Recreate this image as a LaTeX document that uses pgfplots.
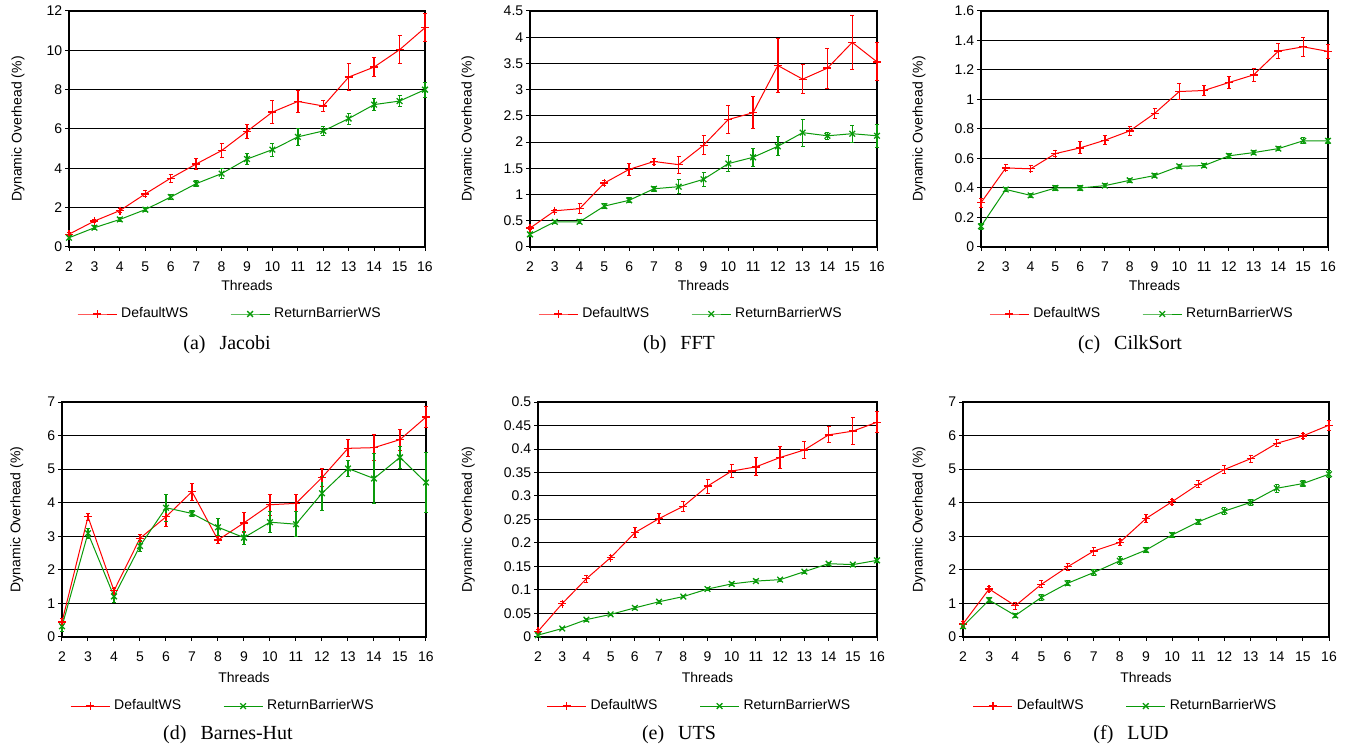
\documentclass[border=0pt]{standalone}
\usepackage{fontspec}
\setmainfont{Liberation Sans}
\newfontfamily\capfont{Liberation Serif}
\usepackage{pgfplots}
\usepackage{pgfplotstable}
\pgfplotsset{compat=1.18}
\definecolor{DefRed}{HTML}{FF0000}
\definecolor{RetGreen}{HTML}{0A9A0A}

% x: threads, d/de: DefaultWS mean/err, r/re: ReturnBarrierWS mean/err
\pgfplotstableread{
x d de r re
2 0.65 0.10 0.47 0.10
3 1.32 0.10 0.98 0.10
4 1.85 0.10 1.40 0.10
5 2.70 0.15 1.90 0.10
6 3.50 0.20 2.54 0.12
7 4.22 0.28 3.22 0.15
8 4.90 0.35 3.73 0.25
9 5.88 0.34 4.47 0.30
10 6.86 0.60 4.95 0.33
11 7.40 0.58 5.60 0.45
12 7.17 0.30 5.90 0.22
13 8.64 0.70 6.53 0.28
14 9.15 0.50 7.24 0.30
15 10.03 0.70 7.42 0.30
16 11.15 0.70 8.00 0.38
}\jacobi
\pgfplotstableread{
x d de r re
2 0.36 0.03 0.24 0.04
3 0.69 0.03 0.48 0.03
4 0.73 0.10 0.48 0.04
5 1.22 0.05 0.78 0.04
6 1.48 0.12 0.89 0.05
7 1.63 0.06 1.11 0.05
8 1.57 0.16 1.15 0.13
9 1.94 0.18 1.29 0.13
10 2.43 0.26 1.59 0.16
11 2.56 0.30 1.71 0.17
12 3.46 0.51 1.92 0.18
13 3.20 0.28 2.18 0.26
14 3.41 0.38 2.12 0.07
15 3.90 0.51 2.16 0.16
16 3.53 0.36 2.12 0.22
}\fft
\pgfplotstableread{
x d de r re
2 0.300 0.030 0.140 0.020
3 0.536 0.020 0.390 0.015
4 0.530 0.020 0.350 0.015
5 0.633 0.020 0.400 0.015
6 0.672 0.040 0.400 0.015
7 0.724 0.030 0.416 0.015
8 0.787 0.033 0.452 0.015
9 0.905 0.035 0.484 0.015
10 1.054 0.055 0.547 0.015
11 1.061 0.035 0.552 0.015
12 1.115 0.040 0.618 0.015
13 1.167 0.043 0.640 0.015
14 1.328 0.050 0.667 0.015
15 1.357 0.065 0.720 0.020
16 1.326 0.045 0.720 0.015
}\cilksort
\pgfplotstableread{
x d de r re
2 0.45 0.10 0.32 0.15
3 3.58 0.10 3.09 0.15
4 1.38 0.07 1.21 0.17
5 2.94 0.11 2.71 0.17
6 3.58 0.30 3.85 0.40
7 4.33 0.25 3.68 0.10
8 2.89 0.11 3.27 0.26
9 3.40 0.30 2.96 0.19
10 3.94 0.31 3.42 0.31
11 3.98 0.25 3.36 0.37
12 4.75 0.28 4.28 0.50
13 5.62 0.25 5.02 0.25
14 5.64 0.39 4.72 0.75
15 5.88 0.31 5.35 0.32
16 6.55 0.32 4.60 0.90
}\barneshut
\pgfplotstableread{
x d de r re
2 0.012 0.003 0.004 0.003
3 0.071 0.004 0.018 0.003
4 0.124 0.007 0.037 0.003
5 0.169 0.005 0.048 0.003
6 0.222 0.010 0.062 0.003
7 0.252 0.010 0.075 0.003
8 0.278 0.010 0.086 0.003
9 0.321 0.015 0.102 0.004
10 0.353 0.013 0.113 0.003
11 0.362 0.019 0.119 0.003
12 0.382 0.023 0.122 0.003
13 0.398 0.018 0.139 0.003
14 0.430 0.017 0.156 0.003
15 0.438 0.028 0.154 0.003
16 0.457 0.022 0.163 0.004
}\uts
\pgfplotstableread{
x d de r re
2 0.39 0.08 0.32 0.08
3 1.43 0.08 1.10 0.08
4 0.93 0.10 0.64 0.06
5 1.57 0.10 1.18 0.08
6 2.09 0.10 1.60 0.08
7 2.56 0.12 1.92 0.08
8 2.82 0.08 2.27 0.12
9 3.53 0.12 2.59 0.08
10 4.03 0.08 3.04 0.08
11 4.55 0.10 3.43 0.08
12 4.99 0.13 3.75 0.10
13 5.31 0.10 4.01 0.08
14 5.77 0.10 4.43 0.12
15 5.99 0.08 4.57 0.08
16 6.31 0.15 4.85 0.10
}\lud

\pgfplotsset{
  ohead/.style={
    scale only axis, clip=false,
    xmin=2, xmax=16, ymin=0, xtick={2,...,16},
    tick pos=left, tick align=outside, major tick length=2pt,
    tick style={black,line width=0.5pt},
    axis line style={black,line width=0.6pt},
    ymajorgrids, grid style={black,line width=0.5pt},
    scaled y ticks=false,
    /pgf/number format/assume math mode=true,
    yticklabel style={/pgf/number format/fixed,/pgf/number format/precision=2,inner xsep=1.2pt},
    xticklabel style={yshift=-2pt},
    tick label style={font=\fontsize{7}{8.4}\selectfont},
    xlabel=Threads, ylabel={Dynamic Overhead (\%)},
    every axis x label/.style={at={(axis description cs:0.5,0)},anchor=center,yshift=-19.5pt,
      font=\fontsize{7}{8.4}\selectfont},
    every axis y label/.style={rotate=90,anchor=center,font=\fontsize{7}{8.4}\selectfont},
    legend columns=2,
    legend style={draw=none,fill=none,anchor=center,font=\fontsize{7}{8.4}\selectfont,
      /tikz/every even column/.append style={column sep=19pt}},
    legend image code/.code={\draw[mark repeat=2,mark phase=2] plot coordinates {(0pt,0pt) (9.75pt,0pt) (19.5pt,0pt)};},
  },
  errs/.style={
    /pgfplots/error bars/y dir=both,/pgfplots/error bars/y explicit,
    /pgfplots/error bars/error bar style={line width=0.65pt},
    /pgfplots/error bars/error mark options={rotate=90,mark size=1pt,line width=0.5pt}},
  defws/.style={DefRed,line width=0.5pt,mark=+,mark size=2pt,mark options={line width=0.65pt},errs},
  retws/.style={RetGreen,line width=0.5pt,mark=x,mark size=2pt,mark options={line width=0.65pt},errs},
}

\begin{document}
\begin{tikzpicture}
\path[use as bounding box] (0,0) rectangle (673pt,374pt);

% (a) Jacobi
\begin{axis}[ohead,at={(34.5pt,250.5pt)},anchor=south west,width=178pt,height=118pt,
  ymax=12,ytick={0,2,4,6,8,10,12},
  y label style={at={(axis description cs:-0.143,0.5)}},
  legend style={at={(axis description cs:0.455,-0.284)}}]
\addplot[defws] table[x=x,y=d,y error=de] {\jacobi};
\addplot[retws] table[x=x,y=r,y error=re] {\jacobi};
\legend{DefaultWS,ReturnBarrierWS}
\end{axis}

% (b) FFT
\begin{axis}[ohead,at={(265pt,250.5pt)},anchor=south west,width=173.5pt,height=118pt,
  ymax=4.5,ytick={0,0.5,1,1.5,2,2.5,3,3.5,4,4.5},
  y label style={at={(axis description cs:-0.179,0.5)}},
  legend style={at={(axis description cs:0.467,-0.284)}}]
\addplot[defws] table[x=x,y=d,y error=de] {\fft};
\addplot[retws] table[x=x,y=r,y error=re] {\fft};
\legend{DefaultWS,ReturnBarrierWS}
\end{axis}

% (c) CilkSort
\begin{axis}[ohead,at={(490.5pt,250.5pt)},anchor=south west,width=173.5pt,height=118pt,
  ymax=1.6,ytick={0,0.2,0.4,0.6,0.8,1,1.2,1.4,1.6},
  y label style={at={(axis description cs:-0.179,0.5)}},
  legend style={at={(axis description cs:0.467,-0.284)}}]
\addplot[defws] table[x=x,y=d,y error=de] {\cilksort};
\addplot[retws] table[x=x,y=r,y error=re] {\cilksort};
\legend{DefaultWS,ReturnBarrierWS}
\end{axis}

% (d) Barnes-Hut
\begin{axis}[ohead,at={(31pt,55.5pt)},anchor=south west,width=182pt,height=117.5pt,
  ymax=7,ytick={0,1,2,3,4,5,6,7},
  every axis x label/.append style={yshift=-1pt},
  y label style={at={(axis description cs:-0.124,0.5)}},
  legend style={at={(axis description cs:0.445,-0.294)}}]
\addplot[defws] table[x=x,y=d,y error=de] {\barneshut};
\addplot[retws] table[x=x,y=r,y error=re] {\barneshut};
\legend{DefaultWS,ReturnBarrierWS}
\end{axis}

% (e) UTS
\begin{axis}[ohead,at={(269pt,55.5pt)},anchor=south west,width=169.5pt,height=117.5pt,
  ymax=0.5,ytick={0,0.05,0.1,0.15,0.2,0.25,0.3,0.35,0.4,0.45,0.5},
  every axis x label/.append style={yshift=-1pt},
  y label style={at={(axis description cs:-0.206,0.5)}},
  legend style={at={(axis description cs:0.479,-0.294)}}]
\addplot[defws] table[x=x,y=d,y error=de] {\uts};
\addplot[retws] table[x=x,y=r,y error=re] {\uts};
\legend{DefaultWS,ReturnBarrierWS}
\end{axis}

% (f) LUD
\begin{axis}[ohead,at={(481.5pt,55.5pt)},anchor=south west,width=183pt,height=117.5pt,
  ymax=7,ytick={0,1,2,3,4,5,6,7},
  every axis x label/.append style={yshift=-1pt},
  y label style={at={(axis description cs:-0.120,0.5)}},
  legend style={at={(axis description cs:0.447,-0.294)}}]
\addplot[defws] table[x=x,y=d,y error=de] {\lud};
\addplot[retws] table[x=x,y=r,y error=re] {\lud};
\legend{DefaultWS,ReturnBarrierWS}
\end{axis}

\begin{scope}[every node/.style={font=\capfont\fontsize{10}{12}\selectfont,anchor=center}]
\node at (113.5pt,201.5pt) {(a)\hspace{0.7em}Jacobi};
\node at (339.5pt,201.5pt) {(b)\hspace{0.7em}FFT};
\node at (565pt,201.5pt) {(c)\hspace{0.7em}CilkSort};
\node at (114pt,6.5pt) {(d)\hspace{0.7em}Barnes-Hut};
\node at (339.5pt,6.5pt) {(e)\hspace{0.7em}UTS};
\node at (565.5pt,6.5pt) {(f)\hspace{0.7em}LUD};
\end{scope}
\end{tikzpicture}
\end{document}
